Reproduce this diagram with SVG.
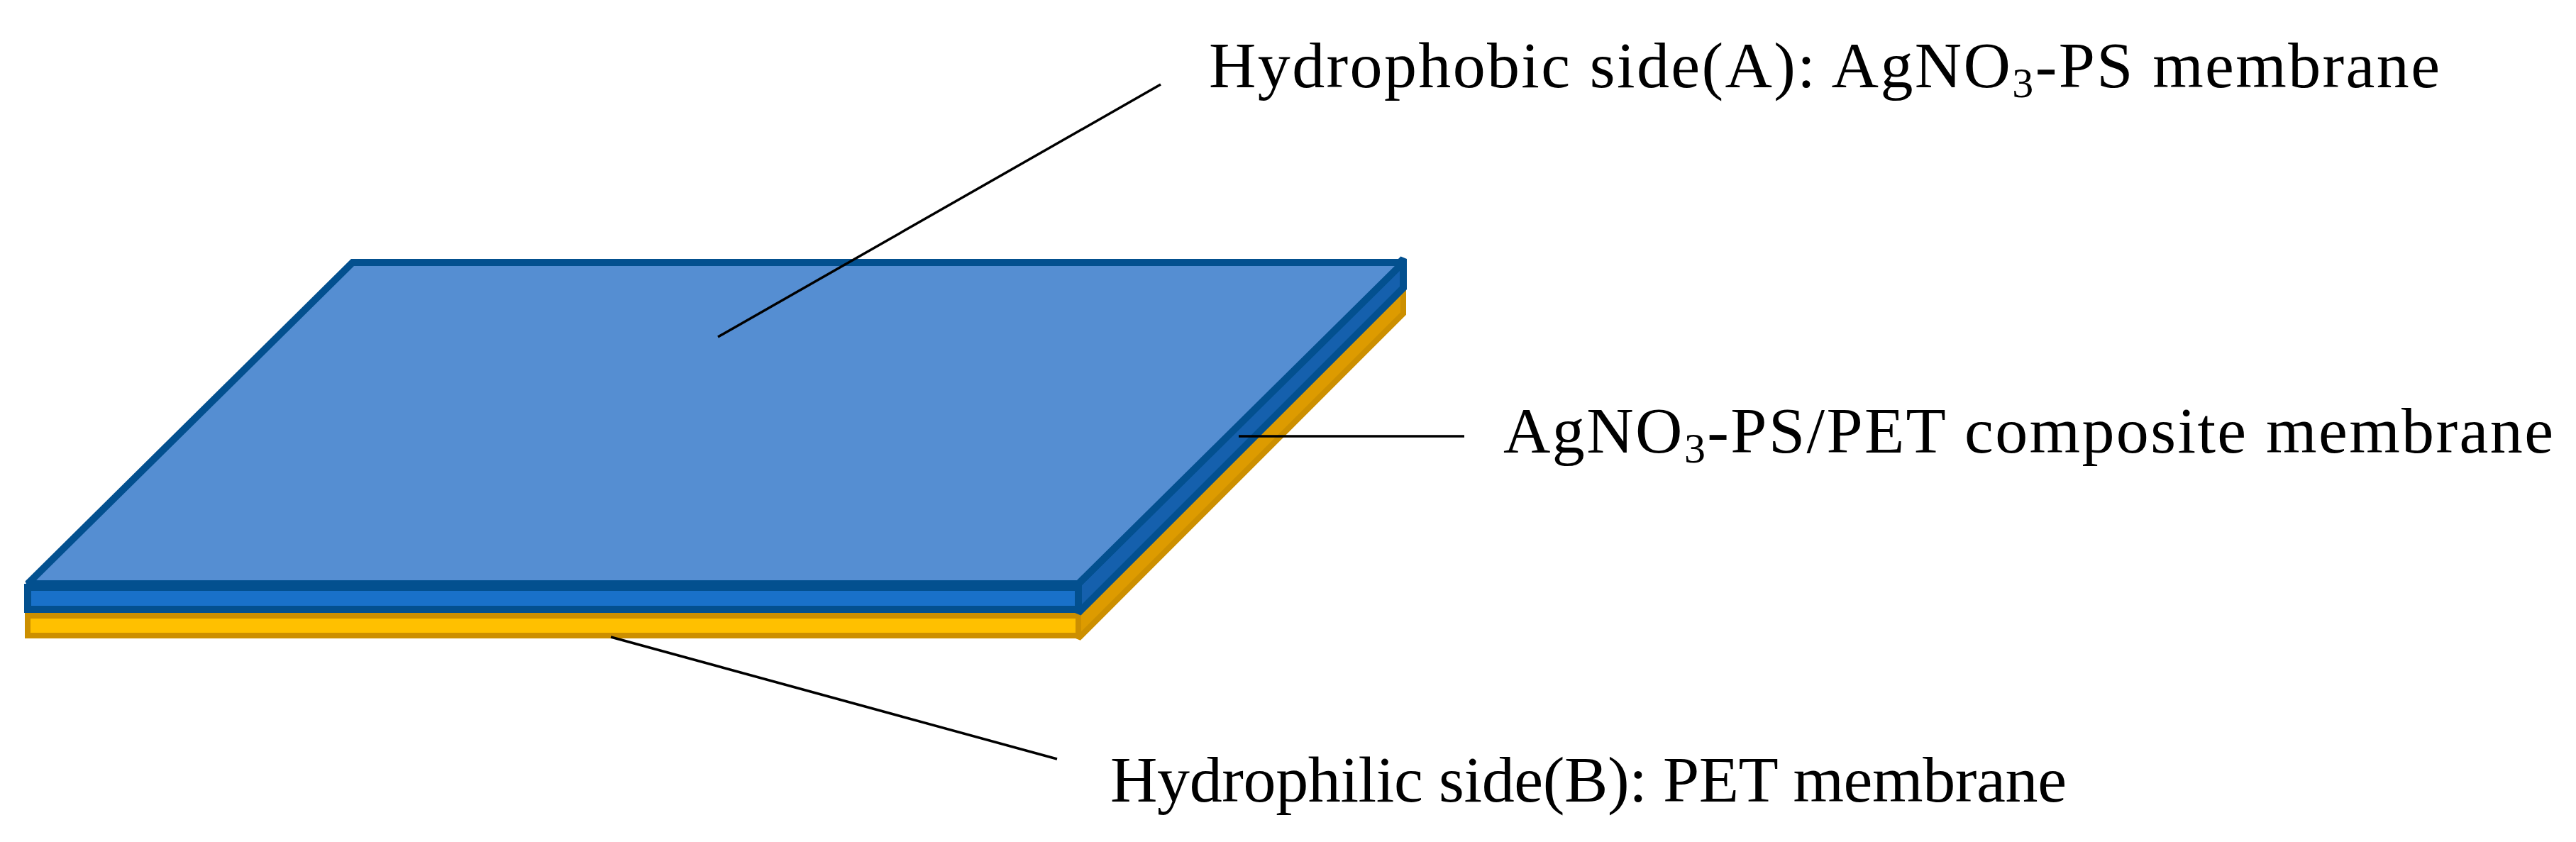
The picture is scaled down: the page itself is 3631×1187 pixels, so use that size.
<svg xmlns="http://www.w3.org/2000/svg" width="3631" height="1187" viewBox="0 0 3631 1187">
<style>
.lbl{font-family:"Liberation Serif","Times New Roman",serif;font-size:92px;fill:#000}
.conn{stroke:#000;stroke-width:3.5;fill:none}
.blue{stroke:#03508f;stroke-width:10;stroke-linejoin:miter;stroke-miterlimit:1.5}
.gold{stroke:#cc8f00;stroke-width:8;stroke-linejoin:miter;stroke-miterlimit:1.5}
</style>
<rect width="3631" height="1187" fill="#fff"/>
<g id="membrane">
<polygon class="gold" points="1520,864 1978,406 1978,442 1520,900" fill="#dd9b00"/>
<rect class="gold" x="39" y="868" width="1481" height="28" fill="#ffc000"/>
<polygon class="blue" points="1520,823 1978,365 1978,406 1520,864" fill="#1560ad"/>
<rect class="blue" x="39" y="828" width="1481" height="31" fill="#1971c9"/>
<polygon class="blue" points="39,823 497,370 1978,370 1520,823" fill="#558ed2"/>
</g>
<g id="connectors">
<line class="conn" x1="1012" y1="475" x2="1636" y2="119"/>
<line class="conn" x1="1746" y1="615" x2="2064" y2="615"/>
<line class="conn" x1="861" y1="898" x2="1490" y2="1070"/>
</g>
<g id="label-a">
<text class="lbl" x="1704" y="123" textLength="1735" lengthAdjust="spacing">Hydrophobic side(A): AgNO<tspan font-size="60" dy="14">3</tspan><tspan dy="-14">-PS membrane</tspan></text>
</g>
<g id="label-composite">
<text class="lbl" x="2119" y="638" textLength="1480" lengthAdjust="spacing">AgNO<tspan font-size="60" dy="14">3</tspan><tspan dy="-14">-PS/PET composite membrane</tspan></text>
</g>
<g id="label-b">
<text class="lbl" x="1565" y="1130" textLength="1348" lengthAdjust="spacing">Hydrophilic side(B): PET membrane</text>
</g>
</svg>
